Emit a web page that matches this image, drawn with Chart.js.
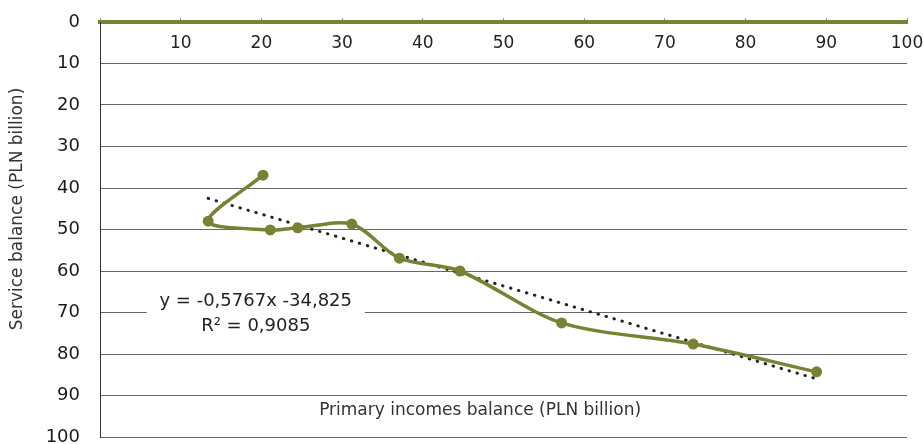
<!DOCTYPE html>
<html>
<head>
<meta charset="utf-8">
<script src="https://cdn.jsdelivr.net/npm/chart.js@4.4.0/dist/chart.umd.min.js"></script>
<style>
  html, body { margin: 0; padding: 0; background: #fff; }
  #wrap { width: 923px; height: 444px; }
</style>
</head>
<body>
<div id="wrap"><canvas id="chart"></canvas></div>
<script>
// primary incomes balance (x) vs service balance (y), PLN billion
const primaryIncomes = [20.2, 13.4, 21.1, 24.5, 31.2, 37.1, 44.6, 57.2, 73.5, 88.8];
const serviceBalance = [-36.9, -48.0, -50.1, -49.6, -48.7, -56.9, -60.0, -72.5, -77.6, -84.3];

// linear trend, ends
const trendX = [13.4, 88.8];
const trendY = [-42.5, -86.0];

const equationLines = ['y = -0,5767x -34,825', 'R\u00b2 = 0,9085'];
const xTitle = 'Primary incomes balance (PLN billion)';
const yTitle = 'Service balance (PLN billion)';

const green = '#7a8034';
const font = 'DejaVu Sans';

const seriesPoints = primaryIncomes.map((x, i) => ({ x, y: serviceBalance[i] }));
const trendPoints = trendX.map((x, i) => ({ x, y: trendY[i] }));

// equation box + titles, drawn as text on the canvas
const annotations = {
    id: 'annotations',
    beforeDatasetsDraw(chart) {
        const { ctx, scales: { x, y } } = chart;
        const cx = x.getPixelForValue(19.3);
        const cy = y.getPixelForValue(-70);
        ctx.save();
        ctx.fillStyle = '#fff';
        ctx.fillRect(cx - 109, cy - 24, 218, 50);
        ctx.fillStyle = '#222';
        ctx.font = '18px "' + font + '"';
        ctx.textAlign = 'center';
        ctx.textBaseline = 'middle';
        ctx.fillText(equationLines[0], cx, cy - 11);
        ctx.fillText(equationLines[1], cx, cy + 14);
        ctx.restore();
    },
    afterDraw(chart) {
        const { ctx, scales: { x, y } } = chart;
        ctx.save();
        ctx.fillStyle = '#333';
        ctx.textAlign = 'center';
        ctx.textBaseline = 'middle';
        ctx.font = '17px "' + font + '"';
        ctx.fillText(xTitle, x.getPixelForValue(47.1), y.getPixelForValue(-93.7));
        ctx.translate(18, 209);
        ctx.rotate(-Math.PI / 2);
        ctx.fillText(yTitle, 0, 0);
        ctx.restore();
    }
};

// no extra room for overflowing tick labels, the layout padding handles it
function noLabelPadding(s) {
    s.paddingLeft = 0;
    s.paddingRight = 0;
    s.paddingTop = 0;
    s.paddingBottom = 0;
}

new Chart(document.getElementById('chart'), {
    type: 'scatter',
    data: {
        datasets: [{
            label: 'Balance',
            data: seriesPoints,
            showLine: true,
            tension: 0.3,
            borderColor: green,
            backgroundColor: green,
            borderWidth: 3.5,
            pointRadius: 5.5,
            pointBorderWidth: 0,
            order: 1
        }, {
            label: 'Trend',
            data: trendPoints,
            showLine: true,
            borderColor: '#222',
            borderWidth: 3,
            borderDash: [0.5, 7.8],
            borderCapStyle: 'round',
            pointRadius: 0,
            order: 2
        }]
    },
    options: {
        responsive: true,
        maintainAspectRatio: false,
        animation: false,
        layout: { padding: { left: 0, right: 16, top: 0, bottom: 7 } },
        plugins: { legend: { display: false }, tooltip: { enabled: false } },
        scales: {
            x: {
                type: 'linear',
                position: 'top',
                min: 0,
                max: 100,
                afterFit: s => { s.height = 22; noLabelPadding(s); },
                ticks: {
                    stepSize: 10,
                    mirror: true,
                    padding: 11,
                    maxRotation: 0,
                    color: '#222',
                    font: { family: font, size: 17 },
                    callback: v => v === 0 ? '' : v
                },
                grid: { drawOnChartArea: false, drawTicks: true, tickLength: 4, color: '#999' },
                border: { color: green, width: 4 }
            },
            y: {
                min: -100,
                max: 0,
                afterFit: s => { s.width = 100; noLabelPadding(s); },
                ticks: {
                    stepSize: 10,
                    padding: 20,
                    color: '#1a1a1a',
                    font: { family: font, size: 18 },
                    callback: v => Math.abs(v)
                },
                grid: { color: '#666', drawTicks: false },
                border: { color: '#333', width: 1 }
            }
        }
    },
    plugins: [annotations]
});
</script>
</body>
</html>
